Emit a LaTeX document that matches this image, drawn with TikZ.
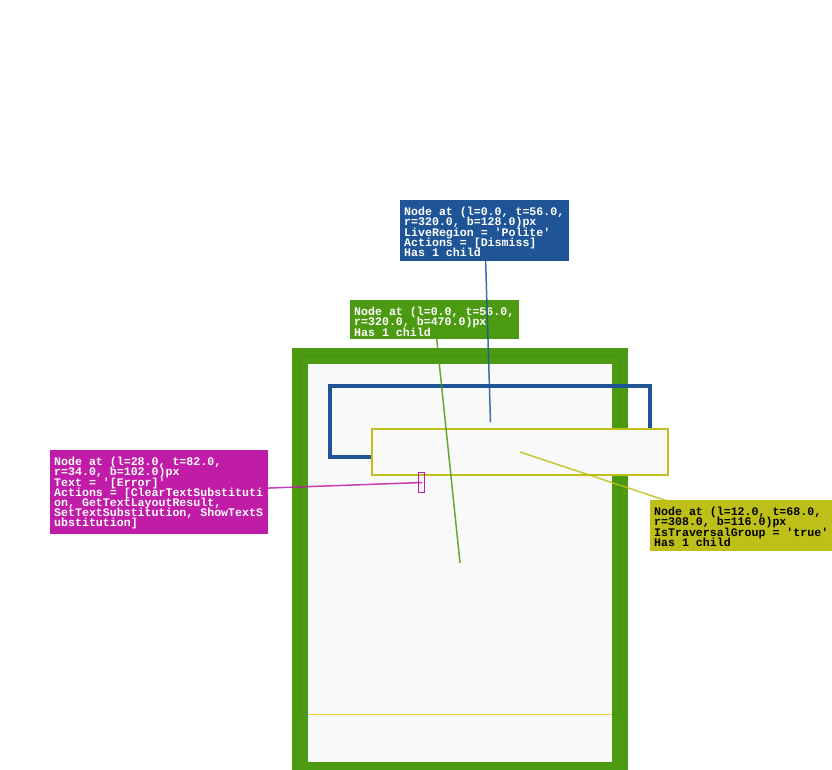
\documentclass[tikz,border=0pt]{standalone}
\usepackage{fontspec}
\usetikzlibrary{calc}
\newfontfamily\labelfont{Liberation Mono}[WordSpace={1,0,0}]
\newcommand\lblsetup{\labelfont\bfseries\fontsize{11.6}{10.2}\selectfont\frenchspacing\lineskiplimit=-50pt\relax\lineskip=0pt\relax}
\definecolor{cgreen}{HTML}{4C9A12}
\definecolor{cblue}{HTML}{1F5597}
\definecolor{colive}{HTML}{BFBF1A}
\definecolor{cmag}{HTML}{C01CA8}
\definecolor{cpanel}{HTML}{F9F9F9}
\definecolor{cgold}{HTML}{F0D030}
\tikzset{
  lblbox/.style={anchor=north west, inner sep=0pt, draw=none},
  lbltext/.style={anchor=base west, inner sep=0pt, align=left, font=\lblsetup},
  conn/.style={line width=1.5pt, opacity=0.85},
}
\begin{document}
\begin{tikzpicture}[x=1pt,y=-1pt]
\useasboundingbox (0,0) rectangle (832,770);
% green outer frame
\draw[cgreen, line width=16pt, fill=cpanel] (300,356) rectangle (620,770);
\draw[cgreen!70!black, opacity=0.25, line width=0.8pt] (300,356) rectangle (619,714);
\draw[cgold, line width=1pt] (308,714) -- (612,714);
% blue rect
\draw[cblue, line width=4pt] (330,386) rectangle (649.5,457);
% olive rect
\draw[colive, line width=2pt, fill=cpanel] (372,428.5) rectangle (668,475);
% magenta small rect
\draw[cmag, line width=1pt] (418.5,472.5) rectangle (424,492.5);
% anchors
\coordinate (gend) at (460,563);
\coordinate (bend) at (490.5,422);
\coordinate (oend) at (520,452);
\coordinate (mend) at (422,482.5);
% green label
\node[lblbox, fill=cgreen, minimum width=169pt, minimum height=39pt] (glab) at (350,300) {};
\draw[cgreen, conn] (glab.center) -- (gend);
\node[lbltext, text=white] (glabt) at ($(glab.north west)+(4,36.1)$)
 {Node at (l=0.0, t=56.0,\\r=320.0, b=470.0)px\\Has 1 child};
% blue label
\node[lblbox, fill=cblue, minimum width=169pt, minimum height=61pt] (blab) at (400,200) {};
\draw[cblue, conn] (blab.center) -- (bend);
\node[lbltext, text=white] (blabt) at ($(blab.north west)+(4,56.5)$)
 {Node at (l=0.0, t=56.0,\\r=320.0, b=128.0)px\\LiveRegion = 'Polite'\\Actions = [Dismiss]\\Has 1 child};
% olive label
\draw[colive, conn] (oend) -- (741,525.5);
\node[lblbox, fill=colive, minimum width=182pt, minimum height=51pt] (olab) at (650,500) {};
\node[lbltext, text=black] (olabt) at ($(olab.north west)+(4,46.3)$)
 {Node at (l=12.0, t=68.0,\\r=308.0, b=116.0)px\\IsTraversalGroup = 'true'\\Has 1 child};
% magenta label
\draw[cmag, conn] (159,492) -- (mend);
\node[lblbox, fill=cmag, minimum width=218pt, minimum height=84pt] (mlab) at (50,450) {};
\node[lbltext, text=white] (mlabt) at ($(mlab.north west)+(4,76.9)$)
 {Node at (l=28.0, t=82.0,\\r=34.0, b=102.0)px\\Text = '[Error]'\\Actions = [ClearTextSubstituti\\on, GetTextLayoutResult,\\SetTextSubstitution, ShowTextS\\ubstitution]};
\end{tikzpicture}
\end{document}
